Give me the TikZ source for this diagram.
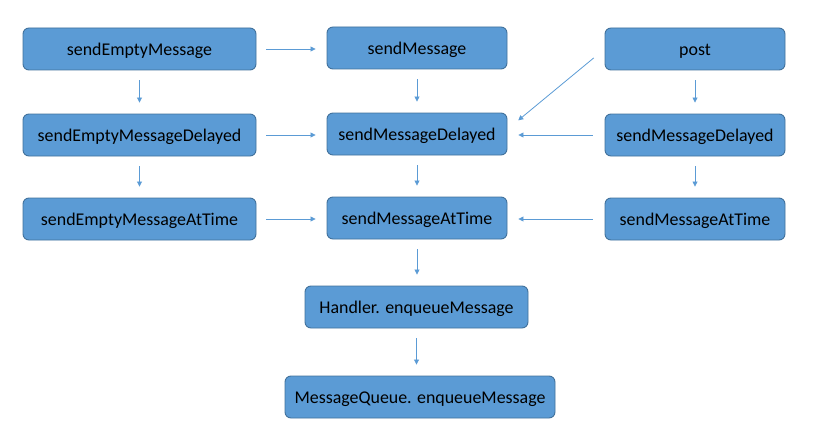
\documentclass[tikz,border=0pt]{standalone}
\usepackage{fontspec}
\setmainfont{Carlito}
\usetikzlibrary{arrows.meta}
\definecolor{boxblue}{HTML}{5B9BD5}
\definecolor{boxline}{HTML}{41719C}

\begin{document}
\begin{tikzpicture}[x=1pt,y=-1pt,
  box/.style={draw=boxline, fill=boxblue, rounded corners=6pt, line width=0.9pt,
    minimum height=42pt, inner sep=0pt, text height=14pt, text depth=1pt,
    font=\fontsize{17.9}{21}\selectfont},
  link/.style={boxblue, line width=0.8pt, -{Triangle[length=5pt,width=5pt]},
    shorten <=10pt, shorten >=11pt}]
\useasboundingbox (0,0) rectangle (822,444);
% left column
\node[box, minimum width=233pt] (eMsg) at (139.5,49)  {sendEmptyMessage};
\node[box, minimum width=233pt] (eDel) at (139.5,135) {sendEmptyMessageDelayed};
\node[box, minimum width=233pt] (eAt)  at (139.5,219) {sendEmptyMessageAtTime};
% middle column
\node[box, minimum width=180pt] (msg)  at (417,48)  {sendMessage};
\node[box, minimum width=180pt] (mDel) at (417,134) {sendMessageDelayed};
\node[box, minimum width=180pt] (mAt)  at (417,218) {sendMessageAtTime};
\node[box, minimum width=223pt] (hEnq) at (416.5,307) {Handler. enqueueMessage};
\node[box, minimum width=270pt] (qEnq) at (420,397) {MessageQueue. enqueueMessage};
% right column
\node[box, minimum width=180pt] (post) at (695,49)  {post};
\node[box, minimum width=180pt] (pDel) at (695,135) {sendMessageDelayed};
\node[box, minimum width=180pt] (pAt)  at (695,219) {sendMessageAtTime};

\foreach \a/\b in {eMsg/eDel, eDel/eAt, msg/mDel, mDel/mAt, mAt/hEnq, hEnq/qEnq, post/pDel, pDel/pAt}
  \draw[link] (\a.south) -- (\a.south |- \b.north);
\foreach \a/\b in {eMsg/msg, eDel/mDel, eAt/mAt}
  \draw[link] (\a.east) -- (\a.east -| \b.west);
\foreach \a/\b in {pDel/mDel, pAt/mAt}
  \draw[link, shorten <=12pt] (\a.west) -- (\a.west -| \b.east);
\draw[link, shorten <=14pt, shorten >=14pt] (post.west) -- (mDel.3);
\end{tikzpicture}
\end{document}
